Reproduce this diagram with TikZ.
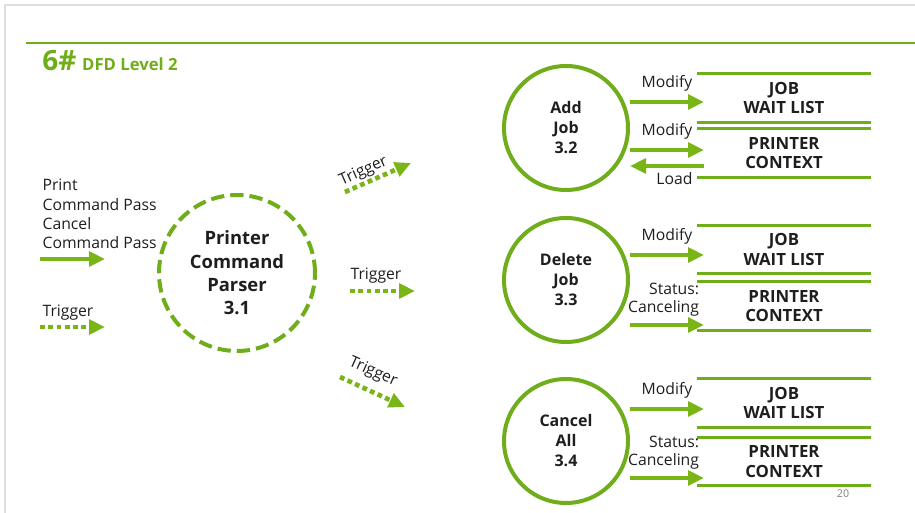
\documentclass[tikz,border=0pt]{standalone}
\usepackage{fontspec}
\setmainfont{Open Sans}
\usetikzlibrary{arrows.meta, positioning}

\definecolor{dfdgreen}{RGB}{112,173,26}
\definecolor{flowgreen}{RGB}{122,181,24}
\definecolor{txtdark}{RGB}{30,30,30}
\definecolor{framegray}{RGB}{222,222,222}

\tikzset{
  proc/.style={circle, draw=dfdgreen, line width=3pt, minimum size=93pt, inner sep=0pt,
    align=center, text=txtdark, font=\bfseries\fontsize{12}{15}\selectfont},
  parser/.style={proc, dash pattern=on 10pt off 4.5pt, minimum size=117pt,
    font=\bfseries\fontsize{13.8}{17.5}\selectfont},
  store/.style={minimum width=130pt, minimum height=36pt, inner sep=0pt, align=center,
    text=txtdark, font=\bfseries\fontsize{12.6}{14.5}\selectfont},
  storeline/.style={draw=dfdgreen, line width=2.2pt},
  flow/.style={draw=flowgreen, line width=3.5pt, -{Triangle[length=12pt, width=11pt]}},
  trig/.style={flow, dash pattern=on 3.6pt off 2.6pt},
  lbl/.style={text=txtdark, inner sep=1pt, font=\fontsize{11.8}{13.5}\selectfont}
}

\begin{document}
\begin{tikzpicture}[x=0.75pt, y=-0.75pt, >=Stealth]
  \useasboundingbox (0,0) rectangle (915,513);

  % slide frame and header
  \draw[framegray, line width=1pt] (5,513) -- (5,5) -- (915,5);
  \draw[dfdgreen, line width=1.6pt] (26,43) -- (915,43);
  \node[anchor=base west, inner sep=0pt, text=dfdgreen,
    font=\bfseries\fontsize{21}{21}\selectfont] (num) at (42,71) {6\#};
  \node[anchor=base west, inner sep=0pt, xshift=4pt, text=dfdgreen,
    font=\bfseries\fontsize{12.5}{14}\selectfont] (title) at (num.base east) {DFD Level 2};
  \node[text=gray, font=\fontsize{8}{9}\selectfont] (page) at (843,494) {20};

  % processes
  \node[parser] (parser) at (237,273) {Printer\\Command\\Parser\\3.1};
  \node[proc] (add) at (566,128) {Add\\Job\\3.2};
  \node[proc] (del) at (566,280) {Delete\\Job\\3.3};
  \node[proc] (can) at (566,441) {Cancel\\All\\3.4};

  % data stores
  \node[store] (wait1) at (784,98) {JOB\\WAIT LIST};
  \node[store] (ctx1) at (784,153) {PRINTER\\CONTEXT};
  \node[store] (wait2) at (784,249.5) {JOB\\WAIT LIST};
  \node[store] (ctx2) at (784,306) {PRINTER\\CONTEXT};
  \node[store] (wait3) at (784,403) {JOB\\WAIT LIST};
  \node[store] (ctx3) at (784,461.5) {PRINTER\\CONTEXT};
  \foreach \s in {wait1,ctx1,wait2,ctx2,wait3,ctx3}
    \draw[storeline] (\s.north west) -- (\s.north east)
                     (\s.south west) -- (\s.south east);

  % inputs of the parser
  \node[lbl, anchor=west, align=left, font=\fontsize{11.8}{14.5}\selectfont] (cmds) at (41,214)
    {Print\\Command Pass\\Cancel\\Command Pass};
  \coordinate (cmdin) at (40,259);
  \draw[flow] (cmdin) -- ++(65,0);
  \node[lbl, anchor=west] (trigin) at (41,313) {Trigger};
  \coordinate (trigstart) at (40,327);
  \draw[trig] (trigstart) -- ++(65,0);

  % triggers out of the parser
  \coordinate (tr1a) at (345,192);
  \coordinate (tr1b) at (411,163);
  \draw[trig] (tr1a) -- node[lbl, sloped, above, pos=0.35] (tr1l) {Trigger} (tr1b);
  \coordinate (tr2a) at (350,291);
  \coordinate (tr2b) at (415,291);
  \draw[trig] (tr2a) -- node[lbl, above=3pt, pos=0.4] (tr2l) {Trigger} (tr2b);
  \coordinate (tr3a) at (340,377);
  \coordinate (tr3b) at (405,407);
  \draw[trig] (tr3a) -- (tr3b);
  \node[lbl, rotate=-24] (tr3l) at (373,372) {Trigger};

  % add job
  \draw[flow] (add.east) ++(0,-26) -- node[lbl, above=5pt] (m1) {Modify} ++(74,0);
  \draw[flow] (add.east) ++(0,22) -- node[lbl, above=5pt] (m2) {Modify} ++(74,0);
  \draw[flow] (add.east) ++(74,38) -- node[lbl, below=2pt, pos=0.4] (ld) {Load} ++(-74,0);

  % delete job
  \draw[flow] (del.east) ++(0,-25) -- node[lbl, above=5pt] (m3) {Modify} ++(74,0);
  \draw[flow] (del.east) ++(0,45) -- node[lbl, pos=1, anchor=south east, align=right,
    yshift=4pt, xshift=-1pt] (st1) {Status:\\Canceling} ++(74,0);

  % cancel all
  \draw[flow] (can.east) ++(0,-32) -- node[lbl, above=5pt] (m4) {Modify} ++(74,0);
  \draw[flow] (can.east) ++(0,37) -- node[lbl, pos=1, anchor=south east, align=right,
    yshift=4pt, xshift=-1pt] (st2) {Status:\\Canceling} ++(74,0);
\end{tikzpicture}
\end{document}
